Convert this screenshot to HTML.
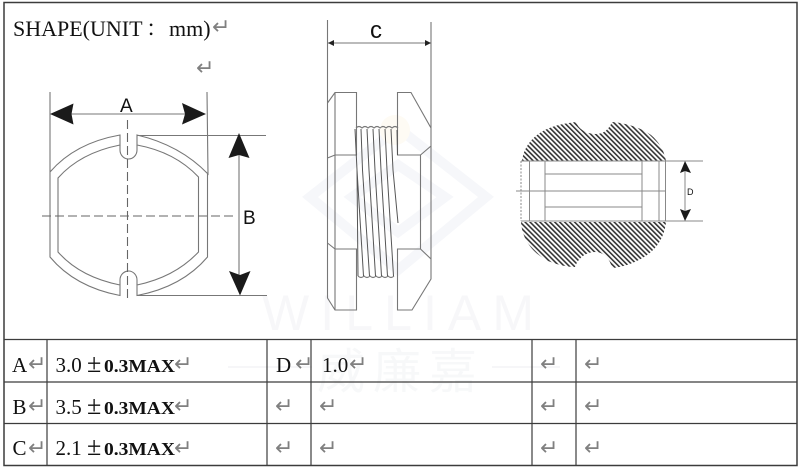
<!DOCTYPE html>
<html><head><meta charset="utf-8"><style>
html,body{margin:0;padding:0;background:#fff}
svg{display:block}
.t{font-family:"Liberation Serif","Noto Serif CJK SC",serif;fill:#111}
.s{font-family:"Liberation Sans",sans-serif;fill:#111}
.r{font-family:"DejaVu Sans",sans-serif;fill:#808080;font-size:22px}
</style></head><body>
<svg width="800" height="469" viewBox="0 0 800 469" xmlns="http://www.w3.org/2000/svg">
<defs>
<pattern id="h" width="3.5" height="3.5" patternUnits="userSpaceOnUse" patternTransform="rotate(-45)">
<rect width="3.5" height="3.5" fill="#fff"/><rect x="0" y="0" width="1.6" height="3.5" fill="#333"/>
</pattern>
</defs>
<rect width="800" height="469" fill="#fff"/>
<!-- watermark -->
<g fill="none" stroke="#f6f7fa" stroke-width="10">
<path d="M398 128 L486 197 L398 270 L310 197 Z"/>
<path d="M398 165 L445 197 L398 232 L352 197 Z"/>
</g>
<circle cx="395" cy="130" r="15" fill="#fefbf4"/>
<text x="262" y="330" font-family="Liberation Sans" font-size="50" fill="#f7f7f9" textLength="272">WILLIAM</text>
<text x="317" y="388" font-family="Noto Sans CJK SC" font-size="48" letter-spacing="8" fill="#f7f8f9">威廉嘉</text>
<path d="M228 367H312M492 367H560" stroke="#f6f6f8" stroke-width="2"/>

<!-- outer frame -->
<g stroke="#3c3c3c" fill="none">
<path d="M4 2.5H797V465.5H4Z" stroke-width="1.5"/>
<path d="M4 339.5H797M4 382H797M4 423.5H797" stroke-width="1.2"/>
<path d="M47 339.5V465.5M267 339.5V465.5M311 339.5V465.5M532 339.5V465.5M576 339.5V465.5" stroke-width="1.2"/>
</g>

<!-- title -->
<g class="t" font-size="22">
<text class="t" x="13" y="36">SHAPE(UNIT</text>
<text class="t" x="146" y="36">：</text>
<text class="t" x="169" y="36">mm)</text>
</g>
<text class="r" x="212" y="34">↵</text>
<text class="r" x="196" y="75">↵</text>

<!-- Left drawing -->
<g fill="none" stroke="#777" stroke-width="1.1">
<path d="M50 92V257Q75 287 120 295.5V285Q80 277 58 252V178Q80 153 120 145V135Q75 143 50 172"/>
<path d="M207 92L208 174Q180 145 137 135V145Q175 152 198.5 177V252Q175 277 137 285V295.5Q182 287 207.5 257V174"/>
<path d="M120 145V150A8.5 9 0 0 0 137 150V145"/>
<path d="M120 285V280A8.5 9 0 0 1 137 280V285"/>
<path d="M137 135.5H266M137 295.5H267"/>
<path d="M127.5 120V302M42 216H233" stroke-dasharray="9 4" stroke="#666"/>
<path d="M70 114H186M239 150V280"/>
</g>
<path d="M50 114L73.500 103.500L71.500 114L73.500 124.500Z M206 114L182 103L185 114L182 124.500Z M239 133L228.500 158L239 155L249.500 158Z M240 295.500L229 271L240 275L250.500 271Z" fill="#1a1a1a"/>
<text class="s" x="120" y="112" font-size="19" fill="#222">A</text>
<text class="s" x="243" y="224" font-size="19" fill="#222">B</text>

<!-- Middle drawing -->
<g fill="none" stroke="#777" stroke-width="1.1">
<path d="M327.5 20V298L335 310H356.500V249H335L327.500 243M327.500 103L335 92.500H356.500V155H335L327.500 158"/>
<path d="M335 92.500V310"/>
<path d="M431 22V279L412 310H397.500V249H420.500V155H397.500V92.500H411L431 128M431 146L420.500 155M420.500 249L431 259"/>
<path d="M356 128q3 -3 6 0q3 -3 6 0q3 -3 6 0q3 -3 6 0q3 -3 6 0q3 -3 6 0q3 -3 6 0"/>
<path d="M358 276q3 3 6 0q3 3 6 0q3 3 6 0q3 3 6 0q3 3 6 0q3 3 6 0"/>
<path d="M328 43H431"/>
</g>
<g fill="none" stroke="#555" stroke-width="1">
<path d="M355 129L357 170L358 276M357 170L363.500 276M361 129L362.500 170L369.500 276M367 129L369 170L375.500 276M373 129L375 170L381.500 276M379 129L381 170L387.500 276M385 129L387 170L393.500 276M391 129L393 170L398 223M397 130L397.500 155"/>
</g>
<path d="M328 43L334 40V46Z M431 43L425 40V46Z" fill="#222"/>
<text class="s" x="370" y="38" font-size="24" fill="#111">c</text>

<!-- Right drawing -->
<path d="M522 161C524 145 535 133 552 127C560 124 569 123 576 122C579 130 587 134 596 134C604 134 609 129 612 122C625 123 640 127 651 135C659 142 664 150 666 161Z" fill="url(#h)"/>
<path d="M521 222C522 238 531 252 548 261C558 265 567 267 575 267C578 258 586 252 595 252C604 252 610 259 612 268C625 267 640 261 651 252C660 244 665 233 666 222Z" fill="url(#h)"/>
<g fill="none" stroke="#888" stroke-width="1">
<path d="M521 161H703M521 221H703"/>
<path d="M529.500 161V221M545 161V221M642 161V221M659 161V221M665.500 161V221"/>
<path d="M545 174H642M545 207H642M516 191H666"/>
<path d="M521 161V221" stroke-dasharray="2 1.500"/>
<path d="M685 165V217"/>
</g>
<path d="M685 161L680 173L685 171L691 173Z M685 221L680 209L685 211L691 209Z" fill="#1a1a1a"/>
<text class="s" x="687" y="195" font-size="9" fill="#333">D</text>

<!-- Table -->
<g font-size="21">
<text x="12" y="372" class="t">A</text><text x="12.500" y="414" class="t">B</text><text x="12.500" y="455" class="t">C</text>
<text x="55.500" y="372" class="t">3.0</text><text x="55.500" y="414" class="t">3.5</text><text x="55.500" y="455" class="t">2.1</text>
<text x="276" y="372" class="t">D</text><text x="322" y="372" class="t">1.0</text>
</g>
<g font-size="26">
<text x="87" y="372" class="t">±</text><text x="87" y="414" class="t">±</text><text x="87" y="455" class="t">±</text>
</g>
<g font-size="18" font-weight="bold">
<text x="104" y="372" class="t" textLength="71" lengthAdjust="spacingAndGlyphs">0.3MAX</text>
<text x="104" y="414" class="t" textLength="71" lengthAdjust="spacingAndGlyphs">0.3MAX</text>
<text x="104" y="455" class="t" textLength="71" lengthAdjust="spacingAndGlyphs">0.3MAX</text>
</g>
<g>
<text class="r" x="28" y="371">↵</text><text class="r" x="28" y="413">↵</text><text class="r" x="28" y="455">↵</text>
<text class="r" x="174" y="371">↵</text><text class="r" x="174" y="413">↵</text><text class="r" x="174" y="455">↵</text>
<text class="r" x="295" y="371">↵</text><text class="r" x="349" y="371">↵</text>
<text class="r" x="275" y="413">↵</text><text class="r" x="275" y="455">↵</text>
<text class="r" x="319" y="413">↵</text><text class="r" x="319" y="455">↵</text>
<text class="r" x="540" y="371">↵</text><text class="r" x="540" y="413">↵</text><text class="r" x="540" y="455">↵</text>
<text class="r" x="584" y="371">↵</text><text class="r" x="584" y="413">↵</text><text class="r" x="584" y="455">↵</text>
</g>
</svg>
</body></html>
